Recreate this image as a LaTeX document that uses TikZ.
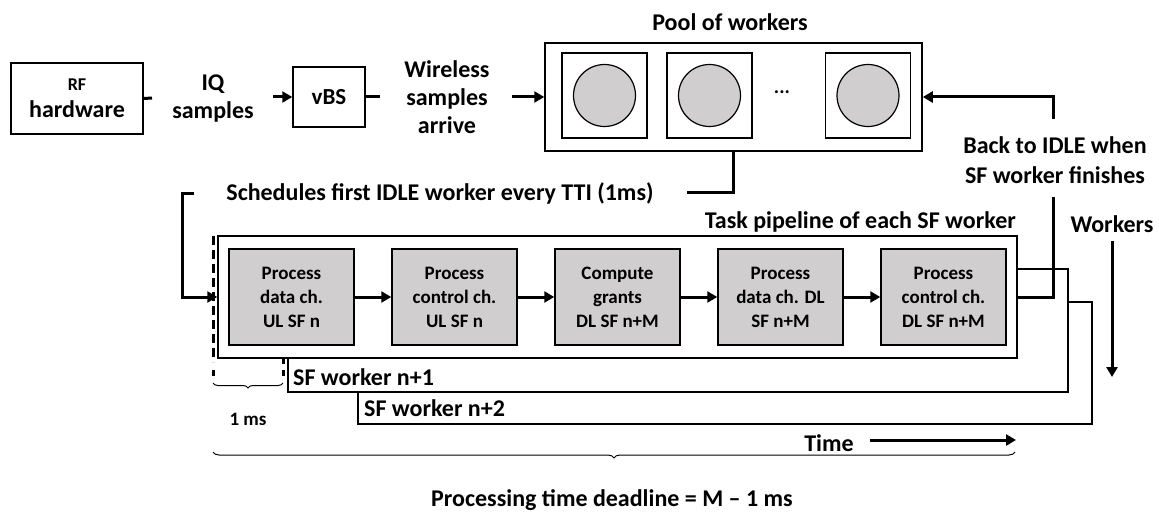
\documentclass[tikz,border=0pt]{standalone}
\usepackage{fontspec}
\setmainfont{Carlito}
\usetikzlibrary{arrows.meta,positioning,decorations.pathreplacing}
\definecolor{taskgray}{RGB}{208,206,206}
\tikzset
{
    box/.style      = {draw=black, line width=1.5pt, fill=white, inner sep=0pt},
    taskbox/.style  = {box, fill=taskgray, align=center, minimum width=125pt, minimum height=96pt, font=\fontsize{19}{24}\selectfont\bfseries},
    slot/.style     = {box, minimum size=85pt},
    worker/.style   = {circle, draw=black, line width=1.2pt, fill=taskgray, minimum size=62pt, inner sep=0pt},
    lbl/.style      = {align=center, inner sep=0pt, font=\fontsize{24}{28}\selectfont\bfseries},
    link/.style     = {line width=3pt},
    linkarrow/.style= {line width=3pt, -{Triangle[length=10pt,width=11pt]}},
    frame/.style    = {draw=black, line width=1.5pt, fill=white}
}

\begin{document}
\begin{tikzpicture}[x=1pt,y=-1pt]
\useasboundingbox (0,0) rectangle (1159,513);

% top row
\node (rf)    [box, minimum width=132pt, minimum height=71pt, align=center, font=\fontsize{24}{27}\selectfont\bfseries] at (77,98.5) {{\fontsize{18}{20}\selectfont RF}\\hardware};
\node (iq)    [lbl] at (213,99)   {IQ\\samples};
\node (vbs)   [box, minimum width=72pt, minimum height=60pt, font=\fontsize{23}{24}\selectfont\bfseries] at (329,97) {vBS};
\node (wless) [lbl] at (447,97)   {Wireless\\samples\\arrive};
\node (pool)  [box, minimum width=377pt, minimum height=108pt] at (733.5,97) {};
\node (pooll) [lbl] at (730,22)   {Pool of workers};
\node (s1)    [slot] at (604.5,95.5) {};
\node (s2)    [slot] at (709.5,95.5) {};
\node (s3)    [slot] at (868,95.5)   {};
\node (w1)    [worker] at (s1) {};
\node (w2)    [worker] at (s2) {};
\node (w3)    [worker] at (s3) {};
\node (dots)  [lbl, font=\fontsize{20}{24}\selectfont\bfseries] at (782,92) {...};

\coordinate (rfend)  at (152,98);
\coordinate (iqend)  at (273,97);
\coordinate (vbsend) at (380,97);
\coordinate (wlend)  at (512,97);

% schedule loop
\node (sched) [lbl] at (440,193) {Schedules first IDLE worker every TTI (1ms)};
\coordinate (schedR) at (687,193);
\coordinate (schedL) at (194,194);
\coordinate (schedC) at (182,194);

% workers behind the pipeline
\node (wk2)   [frame, minimum width=734pt, minimum height=122pt, inner sep=0pt] at (725,363) {};
\node (wk1)   [frame, minimum width=780pt, minimum height=123pt, inner sep=0pt] at (678,330.5) {};
\node (wk2l)  [lbl, anchor=west] at (364,408) {SF worker n+2};
\node (wk1l)  [lbl, anchor=west] at (293,377) {SF worker n+1};
\draw[line width=3pt, dash pattern=on 9pt off 5pt] (213,236) -- (213,362);
\draw[line width=3pt] (213,370) -- (213,376) (283,358) -- (283,364) (283,370) -- (283,376);
\node (pipe)  [frame, minimum width=799pt, minimum height=122pt, inner sep=0pt] at (617.5,297) {};
\node (pipel) [lbl, anchor=east] at (1016,222) {Task pipeline of each SF worker};

\node (t1) [taskbox] at (291.5,297) {Process\\data ch.\\UL SF n};
\node (t2) [taskbox] at (454.5,297) {Process\\control ch.\\UL SF n};
\node (t3) [taskbox] at (617.5,297) {Compute\\grants\\DL SF n+M};
\node (t4) [taskbox] at (780.5,297) {Process\\data ch. DL\\SF n+M};
\node (t5) [taskbox] at (943.5,297) {Process\\control ch.\\DL SF n+M};

% back to idle
\node (back) [lbl, align=center, font=\fontsize{24}{30}\selectfont\bfseries] at (1055,160) {Back to IDLE when\\SF worker finishes};
\coordinate (backlo) at (1053,197);
\coordinate (backhi) at (1053,119);

\node (wkl)  [lbl] at (1112,224) {Workers};
\coordinate (wkst)  at (1112,241);
\coordinate (wkend) at (1112,377);

\node (time) [lbl] at (829,443) {Time};
\coordinate (timest)  at (870,440);
\coordinate (timeend) at (1016,440);

\coordinate (msA) at (213,383);
\coordinate (msB) at (283,383);
\node (ms)   [lbl, font=\fontsize{19}{20}\selectfont\bfseries] at (248,419) {1 ms};
\coordinate (dlA) at (213,452);
\coordinate (dlB) at (1015,452);
\node (dl)   [lbl] at (612,500) {Processing time deadline = M -- 1 ms};

\path
(rf.east)   edge[link]       (rfend)
(iqend)     edge[linkarrow]  (vbs.west)
(vbs.east)  edge[link]       (vbsend)
(wlend)     edge[linkarrow]  (pool.west)
(t1)        edge[linkarrow]  (t2)
(t2)        edge[linkarrow]  (t3)
(t3)        edge[linkarrow]  (t4)
(t4)        edge[linkarrow]  (t5)
(wkst)      edge[linkarrow]  (wkend)
(timest)    edge[linkarrow]  (timeend);

\draw[link] (pool.south) |- (schedR);
\draw[linkarrow] (schedL) -- (schedC) |- (pipe.west);
\draw[link] (pipe.east) -| (backlo);
\draw[linkarrow] (backhi) |- (pool.east);

\draw[line width=1pt, decorate, decoration={brace, mirror, amplitude=5pt}] (msA) -- (msB);
\draw[line width=1pt, decorate, decoration={brace, mirror, amplitude=6pt}] (dlA) -- (dlB);
\end{tikzpicture}
\end{document}
